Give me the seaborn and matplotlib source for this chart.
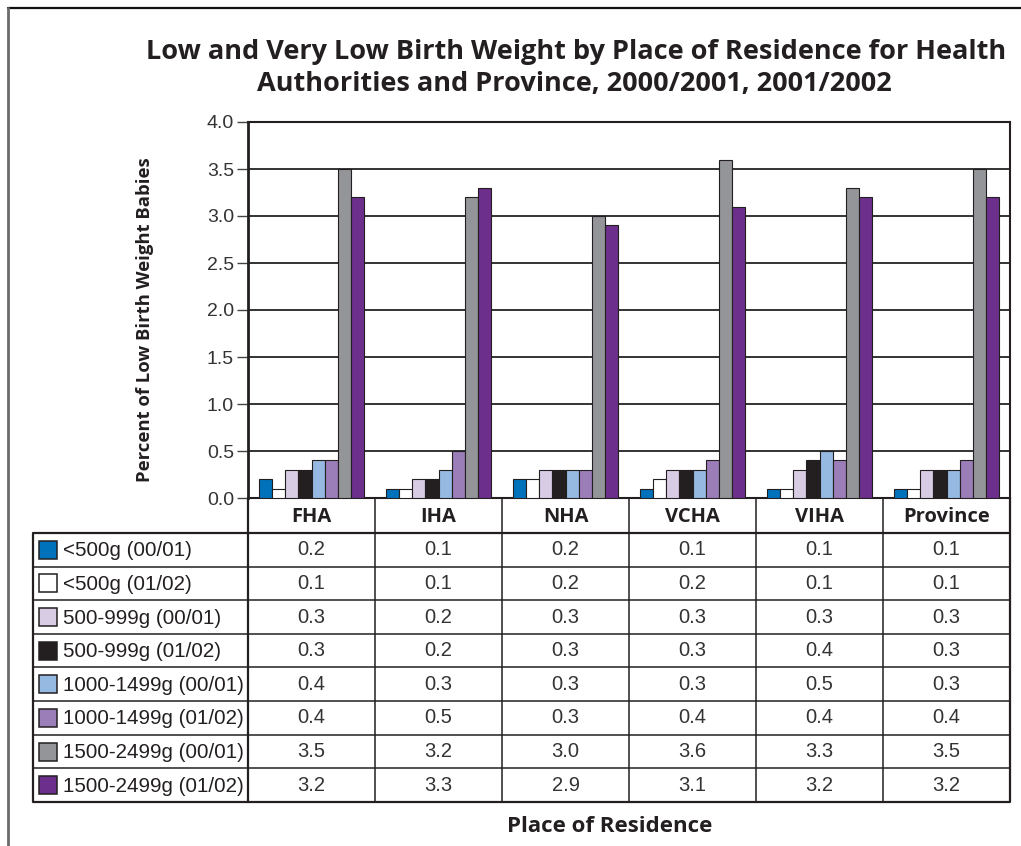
import matplotlib
matplotlib.use("Agg")
import matplotlib.pyplot as plt
from matplotlib.patches import Rectangle
import seaborn as sns
import pandas as pd

# ---- data -------------------------------------------------------------
regions = ["FHA", "IHA", "NHA", "VCHA", "VIHA", "Province"]
series_labels = [
    "<500g (00/01)", "<500g (01/02)",
    "500-999g (00/01)", "500-999g (01/02)",
    "1000-1499g (00/01)", "1000-1499g (01/02)",
    "1500-2499g (00/01)", "1500-2499g (01/02)",
]
lt500_0001 = [0.2, 0.1, 0.2, 0.1, 0.1, 0.1]
lt500_0102 = [0.1, 0.1, 0.2, 0.2, 0.1, 0.1]
g500_999_0001 = [0.3, 0.2, 0.3, 0.3, 0.3, 0.3]
g500_999_0102 = [0.3, 0.2, 0.3, 0.3, 0.4, 0.3]
g1000_1499_0001 = [0.4, 0.3, 0.3, 0.3, 0.5, 0.3]
g1000_1499_0102 = [0.4, 0.5, 0.3, 0.4, 0.4, 0.4]
g1500_2499_0001 = [3.5, 3.2, 3.0, 3.6, 3.3, 3.5]
g1500_2499_0102 = [3.2, 3.3, 2.9, 3.1, 3.2, 3.2]
series_values = [lt500_0001, lt500_0102, g500_999_0001, g500_999_0102,
                 g1000_1499_0001, g1000_1499_0102, g1500_2499_0001, g1500_2499_0102]
colors = ["#0072bc", "#ffffff", "#d8cce4", "#231f20",
          "#95b9e0", "#9b7db8", "#939598", "#6d2f8c"]
y_ticks = [0.0, 0.5, 1.0, 1.5, 2.0, 2.5, 3.0, 3.5, 4.0]

df = pd.DataFrame(
    [(r, s, v) for s, vals in zip(series_labels, series_values) for r, v in zip(regions, vals)],
    columns=["region", "series", "value"],
)

# ---- figure -----------------------------------------------------------
W, H = 1021, 846
sns.set_theme(style="white")
plt.rcParams["font.family"] = ["Liberation Sans", "DejaVu Sans"]
fig = plt.figure(figsize=(W / 100, H / 100), dpi=100)

# layout in pixels
P_LEFT, P_RIGHT, P_TOP, P_BOTTOM = 248, 1010, 122, 498
ax = fig.add_axes([P_LEFT / W, 1 - P_BOTTOM / H, (P_RIGHT - P_LEFT) / W, (P_BOTTOM - P_TOP) / H])

sns.barplot(data=df, x="region", y="value", hue="series", order=regions,
            hue_order=series_labels, palette=colors, saturation=1, width=0.82,
            edgecolor="#231f20", linewidth=0.8, legend=False, ax=ax, zorder=3)

ax.set_xlim(-0.5, len(regions) - 0.5)
ax.set_ylim(0, 4)
ax.set_yticks(y_ticks)
ax.set_yticklabels([f"{t:.1f}" for t in y_ticks])
ax.set_xlabel("")
ax.set_ylabel("")
ax.tick_params(axis="x", bottom=False, labelbottom=False)
ax.tick_params(axis="y", left=True, direction="out", length=8, width=1,
               color="#444444", labelsize=14, labelcolor="#333333", pad=2)
ax.yaxis.grid(True, color="#111111", linewidth=1.2, zorder=0)
ax.set_axisbelow(True)
for side, lw in [("left", 2.0), ("top", 1.5), ("right", 1.5), ("bottom", 1.5)]:
    ax.spines[side].set_visible(True)
    ax.spines[side].set_color("#231f20")
    ax.spines[side].set_linewidth(lw)

# ---- overlay for table, titles and page frame (pixel coordinates) -----
ov = fig.add_axes([0, 0, 1, 1], zorder=-1)
ov.set_xlim(0, W)
ov.set_ylim(H, 0)
ov.axis("off")

LINE = "#231f20"
bold_font = ["Open Sans", "DejaVu Sans"]

# page frame
ov.plot([8, W], [8, 8], color="#111111", lw=1.6)
ov.plot([8, 8], [8, H], color="#6b6b6b", lw=2.0)

# titles
ov.text(576, 52, "Low and Very Low Birth Weight by Place of Residence for Health",
        ha="center", va="center", fontsize=19.5, fontweight="bold",
        family=bold_font, color="#231f20")
ov.text(574, 84, "Authorities and Province, 2000/2001, 2001/2002",
        ha="center", va="center", fontsize=19.5, fontweight="bold",
        family=bold_font, color="#231f20")
ov.text(145, 320, "Percent of Low Birth Weight Babies", rotation=90,
        ha="center", va="center", fontsize=13.3, fontweight="bold",
        family=bold_font, color="#231f20")

# data table below the bars
T_LEFT, HEAD_BOT, T_BOT = 33, 533, 802
n_rows = len(series_labels)
row_h = (T_BOT - HEAD_BOT) / n_rows
col_w = (P_RIGHT - P_LEFT) / len(regions)
col_edges = [P_LEFT + i * col_w for i in range(len(regions) + 1)]

for i in range(n_rows + 1):
    y = HEAD_BOT + i * row_h
    ov.plot([T_LEFT, P_RIGHT], [y, y], color=LINE, lw=1.6 if i in (0, n_rows) else 1.1,
            solid_capstyle="butt")
ov.plot([T_LEFT, T_LEFT], [HEAD_BOT, T_BOT], color=LINE, lw=1.6)
for j, x in enumerate(col_edges):
    ov.plot([x, x], [P_BOTTOM, T_BOT], color=LINE, lw=1.6 if j in (0, len(regions)) else 1.1)

for j, r in enumerate(regions):
    cx = (col_edges[j] + col_edges[j + 1]) / 2
    ov.text(cx, (P_BOTTOM + HEAD_BOT) / 2 + 1, r, ha="center", va="center",
            fontsize=14.5, fontweight="bold", family=bold_font, color="#231f20")

for i, (lab, vals, c) in enumerate(zip(series_labels, series_values, colors)):
    cy = HEAD_BOT + (i + 0.5) * row_h
    ov.add_patch(Rectangle((39, cy - 9), 18, 18, facecolor=c, edgecolor="#231f20", lw=1.1))
    ov.text(63, cy + 1, lab, ha="left", va="center", fontsize=14.8, color="#231f20")
    for j, v in enumerate(vals):
        cx = (col_edges[j] + col_edges[j + 1]) / 2
        ov.text(cx, cy, f"{v:.1f}", ha="center", va="center", fontsize=14.5, color="#333333")

ov.text(610, 826, "Place of Residence", ha="center", va="center", fontsize=16,
        fontweight="bold", family=bold_font, color="#231f20")

fig.savefig("out.png", dpi=100)
